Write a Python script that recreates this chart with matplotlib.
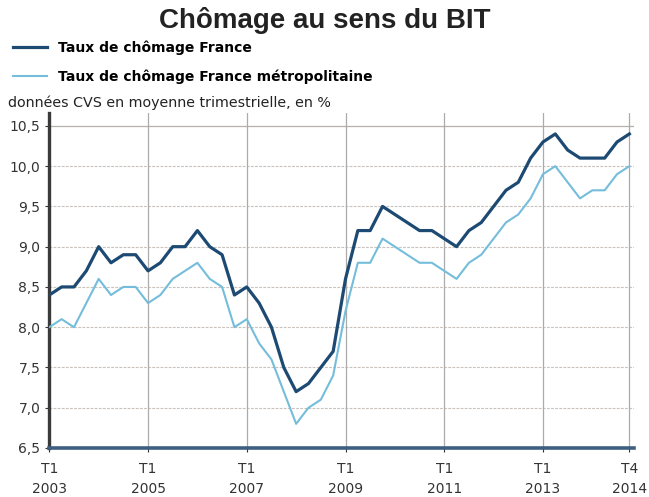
import matplotlib
matplotlib.use("Agg")
from matplotlib import pyplot as plt
import numpy as np

# quarterly series, T1 2003 .. T4 2014
years = list(range(2003, 2015))
quarters = ["T1", "T2", "T3", "T4"]
periods = [f"{q}\n{y}" for y in years for q in quarters]

france = [8.4, 8.5, 8.5, 8.7, 9.0, 8.8, 8.9, 8.9,
          8.7, 8.8, 9.0, 9.0, 9.2, 9.0, 8.9, 8.4,
          8.5, 8.3, 8.0, 7.5, 7.2, 7.3, 7.5, 7.7,
          8.6, 9.2, 9.2, 9.5, 9.4, 9.3, 9.2, 9.2,
          9.1, 9.0, 9.2, 9.3, 9.5, 9.7, 9.8, 10.1,
          10.3, 10.4, 10.2, 10.1, 10.1, 10.1, 10.3, 10.4]
metro = [8.0, 8.1, 8.0, 8.3, 8.6, 8.4, 8.5, 8.5,
         8.3, 8.4, 8.6, 8.7, 8.8, 8.6, 8.5, 8.0,
         8.1, 7.8, 7.6, 7.2, 6.8, 7.0, 7.1, 7.4,
         8.2, 8.8, 8.8, 9.1, 9.0, 8.9, 8.8, 8.8,
         8.7, 8.6, 8.8, 8.9, 9.1, 9.3, 9.4, 9.6,
         9.9, 10.0, 9.8, 9.6, 9.7, 9.7, 9.9, 10.0]

tick_idx = [0, 8, 16, 24, 32, 40, 47]
yticks = [6.5, 7.0, 7.5, 8.0, 8.5, 9.0, 9.5, 10.0, 10.5]

dark = "#1d4a73"
light = "#74bddb"

fig = plt.figure(figsize=(6.49, 4.97), dpi=100)
ax = fig.add_axes([49.3 / 649, 49 / 497, 585 / 649, 335 / 497])

x = np.arange(len(periods))
l1, = ax.plot(x, france, color=dark, lw=2.3, zorder=4,
              label="Taux de chômage France")
l2, = ax.plot(x, metro, color=light, lw=1.5, zorder=3,
              label="Taux de chômage France métropolitaine")

ax.set_xlim(0, 47.4)
ax.set_ylim(6.5, 10.66)
ax.set_yticks(yticks)
ax.set_yticklabels([f"{v:.1f}".replace(".", ",") for v in yticks])
ax.set_xticks(tick_idx)
ax.set_xticklabels([periods[i] for i in tick_idx])

for v in yticks[1:-1]:
    ax.axhline(v, color="#c9c1bc", lw=0.8, ls=(0, (2.5, 1.2)), zorder=1)
ax.axhline(10.5, color="#b5b0ad", lw=0.9, zorder=1)
for i in tick_idx[1:]:
    ax.axvline(i, color="#ababab", lw=0.9, zorder=1)

for s in ["top", "right"]:
    ax.spines[s].set_visible(False)
ax.spines["left"].set_color("#3a3a3a")
ax.spines["left"].set_linewidth(2.4)
ax.spines["bottom"].set_color("#3e5f80")
ax.spines["bottom"].set_linewidth(2.6)
ax.spines["bottom"].set_zorder(5)

ax.tick_params(axis="both", colors="#333333", labelsize=10, length=3, width=0.8)
ax.tick_params(axis="x", pad=7)
for t in ax.get_xticklabels():
    t.set_linespacing(1.55)

fig.text(0.5, 0.958, "Chômage au sens du BIT", ha="center", va="center",
         fontsize=20, fontweight="bold", family="Liberation Sans", color="#222222")
fig.legend(handles=[l1, l2], loc="upper left", bbox_to_anchor=(0.012, 0.929),
           frameon=False, prop={"weight": "bold", "size": 10},
           handlelength=2.4, handletextpad=0.8, labelspacing=1.0, borderaxespad=0)
fig.text(8 / 649, 1 - 103 / 497, "données CVS en moyenne trimestrielle, en %",
         ha="left", va="center", fontsize=10.3, color="#222222")

fig.savefig("out.png", dpi=100)
